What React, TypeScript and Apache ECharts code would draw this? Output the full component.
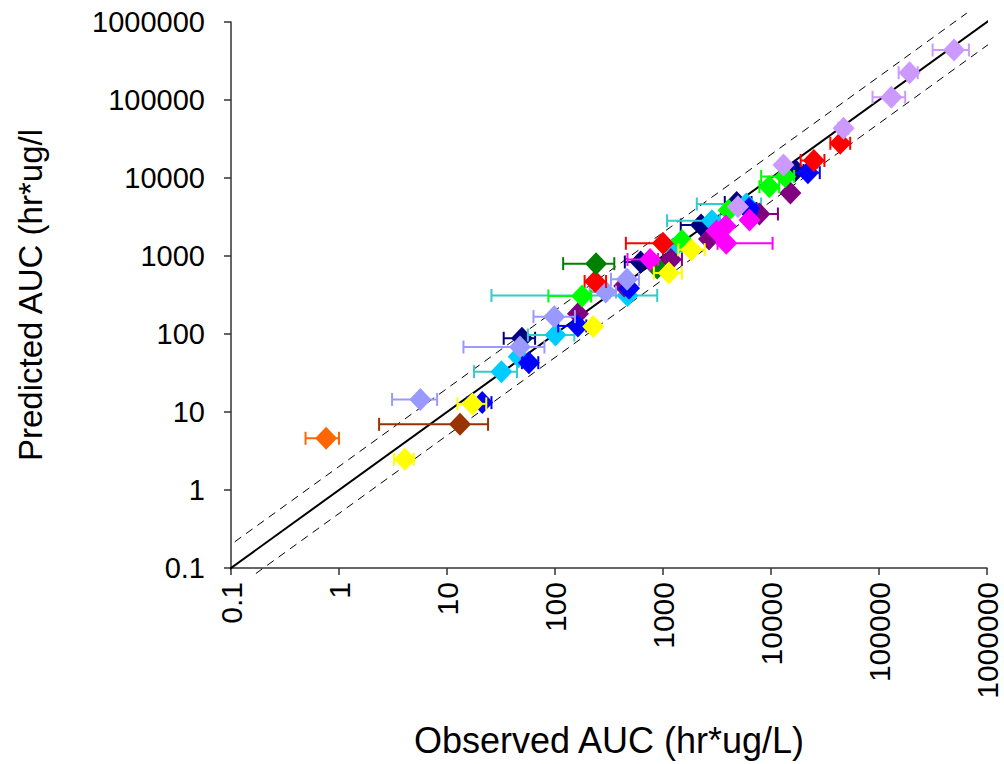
import React, { useEffect, useRef } from "react";
import * as echarts from "echarts";

const FONT = "'Liberation Sans', Arial, Helvetica, sans-serif";

const tickLabels = ["0.1", "1", "10", "100", "1000", "10000", "100000", "1000000"];
const xTitle = "Observed AUC (hr*ug/L)";
const yTitle = "Predicted AUC (hr*ug/l";

// each point: [observed, predicted, errLow, errHigh]
const navyPts = [
  [49.4, 88.1, 33.5, 65.4],
  [621, 838, 443, 800],
  [2250, 2496, 1460, 3020],
  [4808, 4853, 3733, 6600],
  [16870, 12480, 14000, 20000],
];
const cyanPts = [
  [31.9, 32.9, 17.8, 44.5],
  [46.1, 51.2, 46.1, 46.1],
  [101, 97, 56.1, 151],
  [469, 312, 25.8, 884],
  [1233, 1229, 1000, 1500],
  [2838, 2836, 1091, 3360],
  [5900, 4642, 2055, 8100],
];
const purplePts = [
  [163, 182, 163, 163],
  [437, 412, 437, 437],
  [1182, 902, 1000, 1497],
  [2665, 1652, 2665, 2665],
  [7813, 3455, 5600, 11590],
  [15120, 6423, 15120, 15120],
];
const bluePts = [
  [21.2, 13.2, 15.5, 25.8],
  [57.3, 42.9, 49.4, 70],
  [163, 127, 107, 195],
  [485, 385, 440, 530],
  [6260, 4064, 5500, 7330],
  [21970, 11700, 16350, 28290],
];
const periwinklePts = [
  [5.66, 14.5, 3.1, 8.1],
  [47.4, 68.1, 14.2, 79.8],
  [98.5, 167, 63.2, 153],
  [295, 345, 209, 367],
  [465, 503, 330, 599],
];
const redPts = [
  [235, 471, 188, 297],
  [999, 1455, 453, 1400],
  [24930, 16760, 18830, 31240],
  [43790, 27850, 35450, 54080],
];
const darkGreenPts = [
  [240, 797, 119, 354],
  [884, 702, 884, 884],
];
const greenPts = [
  [178, 307, 86.8, 216],
  [1497, 1581, 1497, 1497],
  [4045, 3854, 4045, 4045],
  [9647, 7736, 7813, 11900],
  [13520, 10450, 8100, 16350],
];
const magentaPts = [
  [759, 902, 469, 900],
  [3133, 2092, 3133, 3133],
  [3813, 2424, 3813, 3813],
  [3854, 1455, 3200, 10340],
  [6326, 2893, 6326, 6326],
];
const yellowPts = [
  [4.07, 2.48, 3.23, 4.92],
  [17.2, 12.7, 12.5, 23.1],
  [226, 125, 226, 226],
  [1133, 605, 823, 1497],
  [1834, 1205, 1385, 2432],
];
const lavenderPts = [
  [4943, 4285, 4943, 4943],
  [13050, 14680, 13050, 13050],
  [46950, 43360, 42000, 52000],
  [130100, 108300, 87100, 174800],
  [191800, 223900, 152000, 228500],
  [495500, 437500, 313600, 680000],
];
const orangePts = [[0.76, 4.6, 0.49, 1.0]];
const brownPts = [[13.2, 6.95, 2.35, 24]];

const groups = [
  { name: "navy", pts: navyPts, color: "#000080", err: "#000080" },
  { name: "cyan", pts: cyanPts, color: "#00CCFF", err: "#33CCCC" },
  { name: "purple", pts: purplePts, color: "#800080", err: "#800080" },
  { name: "blue", pts: bluePts, color: "#0000FF", err: "#0000FF" },
  { name: "periwinkle", pts: periwinklePts, color: "#9999FF", err: "#9999FF" },
  { name: "red", pts: redPts, color: "#FF0000", err: "#FF0000" },
  { name: "darkgreen", pts: darkGreenPts, color: "#008000", err: "#008000" },
  { name: "green", pts: greenPts, color: "#00FF00", err: "#00FF00" },
  { name: "magenta", pts: magentaPts, color: "#FF00FF", err: "#FF00FF" },
  { name: "yellow", pts: yellowPts, color: "#FFFF00", err: "#FFFF00" },
  { name: "lavender", pts: lavenderPts, color: "#CC99FF", err: "#CC99FF" },
  { name: "orange", pts: orangePts, color: "#FF6600", err: "#FF6600" },
  { name: "brown", pts: brownPts, color: "#993300", err: "#993300" },
];

const identityLine = [[0.085, 0.085], [1.05e6, 1.05e6]];
const upperLine = [[0.085, 0.17], [6.5e5, 1.3e6]];
const lowerLine = [[0.17, 0.085], [1.1e6, 5.5e5]];

export default function App() {
  const ref = useRef<HTMLDivElement>(null);
  useEffect(() => {
    if (!ref.current) return;
    const chart = echarts.init(ref.current, null, { renderer: "svg" });
    const fmt = (v: number) => {
      const i = Math.round(Math.log10(v)) + 1;
      return tickLabels[i] ?? "";
    };
    const series: any[] = [
      {
        type: "line",
        data: upperLine,
        symbol: "none",
        clip: false,
        lineStyle: { color: "#000", width: 1, type: [8, 6] },
        z: 1,
      },
      {
        type: "line",
        data: lowerLine,
        symbol: "none",
        clip: false,
        lineStyle: { color: "#000", width: 1, type: [8, 6] },
        z: 1,
      },
      {
        type: "line",
        data: identityLine,
        symbol: "none",
        clip: false,
        lineStyle: { color: "#000", width: 2 },
        z: 1,
      },
    ];
    groups.forEach((g, gi) => {
      series.push({
        type: "custom",
        name: g.name + "-err",
        data: g.pts,
        encode: { x: 0, y: 1 },
        z: 2 + gi * 2,
        renderItem: (params: any, api: any) => {
          const y = api.value(1);
          const lo = api.value(2);
          const hi = api.value(3);
          if (lo === hi) return { type: "group", children: [] };
          const a = api.coord([lo, y]);
          const b = api.coord([hi, y]);
          const st = { stroke: g.err, lineWidth: 2 };
          return {
            type: "group",
            children: [
              { type: "line", shape: { x1: a[0], y1: a[1], x2: b[0], y2: b[1] }, style: st },
              { type: "line", shape: { x1: a[0], y1: a[1] - 6.5, x2: a[0], y2: a[1] + 6.5 }, style: st },
              { type: "line", shape: { x1: b[0], y1: b[1] - 6.5, x2: b[0], y2: b[1] + 6.5 }, style: st },
            ],
          };
        },
      });
      series.push({
        type: "scatter",
        name: g.name,
        data: g.pts.map((p) => [p[0], p[1]]),
        symbol: "diamond",
        symbolSize: [22, 23],
        itemStyle: { color: g.color, opacity: 1 },
        z: 3 + gi * 2,
      });
    });
    chart.setOption({
      animation: false,
      backgroundColor: "#fff",
      grid: { left: 231, top: 22, width: 756, height: 546, containLabel: false },
      xAxis: {
        type: "log",
        logBase: 10,
        min: 0.1,
        max: 1000000,
        interval: 1,
        name: xTitle,
        nameLocation: "middle",
        nameGap: 154,
        nameTextStyle: { fontFamily: FONT, fontSize: 36, color: "#000" },
        axisLine: { lineStyle: { color: "#333", width: 1.5 } },
        axisTick: { length: 7, lineStyle: { color: "#333", width: 1.5 } },
        axisLabel: {
          formatter: fmt,
          rotate: 90,
          margin: 14,
          fontFamily: FONT,
          fontSize: 30,
          color: "#000",
        },
        splitLine: { show: false },
        minorTick: { show: false },
      },
      yAxis: {
        type: "log",
        logBase: 10,
        min: 0.1,
        max: 1000000,
        interval: 1,
        name: yTitle,
        nameLocation: "middle",
        nameRotate: 90,
        nameGap: 184,
        nameTextStyle: { fontFamily: FONT, fontSize: 33, color: "#000" },
        axisLine: { show: true, lineStyle: { color: "#333", width: 1.5 } },
        axisTick: { show: true, length: 7, lineStyle: { color: "#333", width: 1.5 } },
        axisLabel: { formatter: fmt, margin: 26, fontFamily: FONT, fontSize: 29, color: "#000" },
        splitLine: { show: false },
        minorTick: { show: false },
      },
      series,
    });
    return () => chart.dispose();
  }, []);
  return (
    <div
      ref={ref}
      style={{ position: "absolute", left: 0, top: 0, width: 1004, height: 764, background: "#fff" }}
    />
  );
}
